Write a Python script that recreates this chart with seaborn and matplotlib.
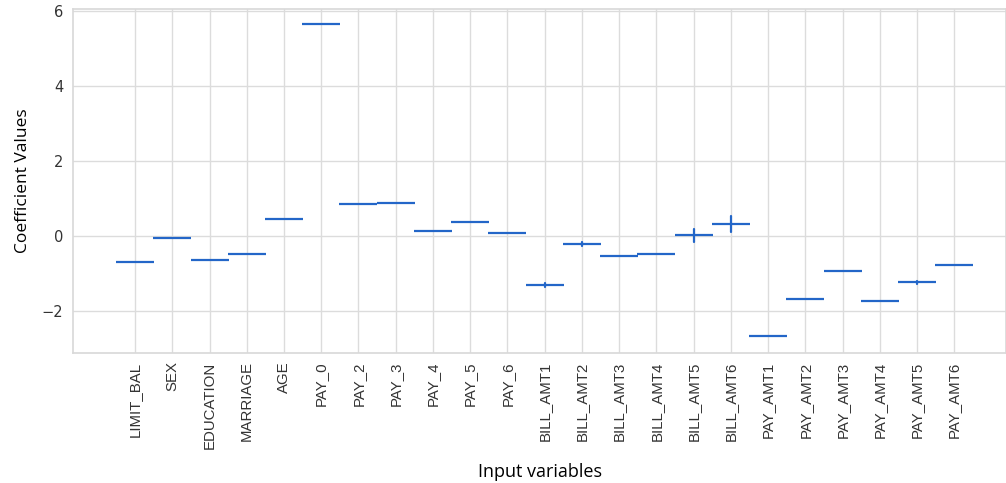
import numpy as np
import pandas as pd
import matplotlib
matplotlib.use("Agg")
import matplotlib.pyplot as plt
import seaborn as sns

variables = ["LIMIT_BAL", "SEX", "EDUCATION", "MARRIAGE", "AGE", "PAY_0", "PAY_2",
             "PAY_3", "PAY_4", "PAY_5", "PAY_6", "BILL_AMT1", "BILL_AMT2", "BILL_AMT3",
             "BILL_AMT4", "BILL_AMT5", "BILL_AMT6", "PAY_AMT1", "PAY_AMT2", "PAY_AMT3",
             "PAY_AMT4", "PAY_AMT5", "PAY_AMT6"]
coefficients = [-0.70, -0.04, -0.63, -0.47, 0.46, 5.66, 0.86,
                0.89, 0.14, 0.38, 0.09, -1.31, -0.21, -0.52,
                -0.47, 0.02, 0.33, -2.65, -1.67, -0.92,
                -1.73, -1.23, -0.78]
errors = [0.0, 0.0, 0.0, 0.0, 0.0, 0.0, 0.0,
          0.0, 0.0, 0.0, 0.0, 0.05, 0.06, 0.0,
          0.0, 0.17, 0.21, 0.0, 0.0, 0.0,
          0.0, 0.04, 0.0]

# long table: lower and upper bound for each variable -> mean = coefficient, range = error bar
rows = []
for v, c, e in zip(variables, coefficients, errors):
    rows.append({"var": v, "coef": c - e})
    rows.append({"var": v, "coef": c + e})
df = pd.DataFrame(rows)

sns.set_theme(style="whitegrid")
plt.rcParams["axes.edgecolor"] = "#d9d9d9"
plt.rcParams["grid.color"] = "#dcdcdc"

fig = plt.figure(figsize=(10.06, 4.83), dpi=100)
ax = fig.add_axes([0.0726, 0.269, 0.9274, 0.712])

blue = "#2366c8"
sns.pointplot(data=df, x="var", y="coef", order=variables, estimator="mean",
              errorbar=("pi", 100), markers="_", linestyles="none",
              color=blue, markersize=27.5, markeredgewidth=1.6,
              err_kws={"linewidth": 1.6}, ax=ax)

ax.set_xlim(-1.665, 23.39)
ax.set_ylim(-3.116, 6.045)
ax.grid(True, axis="both", color="#dcdcdc", linewidth=1)
ax.set_axisbelow(True)
ax.set_yticks([-2, 0, 2, 4, 6])
ax.set_yticklabels(["\u22122", "0", "2", "4", "6"], fontsize=10.5, color="#333333")
ax.set_xticks(range(len(variables)))
ax.set_xticklabels(variables, rotation=90, fontsize=10.8, family="Liberation Sans",
                   color="#333333")
ax.tick_params(axis="both", length=0, pad=7)
ax.tick_params(axis="x", pad=6)
for s in ax.spines.values():
    s.set_color("#d9d9d9")

ax.set_xlabel("Input variables", fontsize=13, family="Open Sans", color="black", labelpad=10)
ax.set_ylabel("Coefficient Values", fontsize=12.5, family="Open Sans", color="black", labelpad=8)

fig.savefig("out.png", dpi=100)
